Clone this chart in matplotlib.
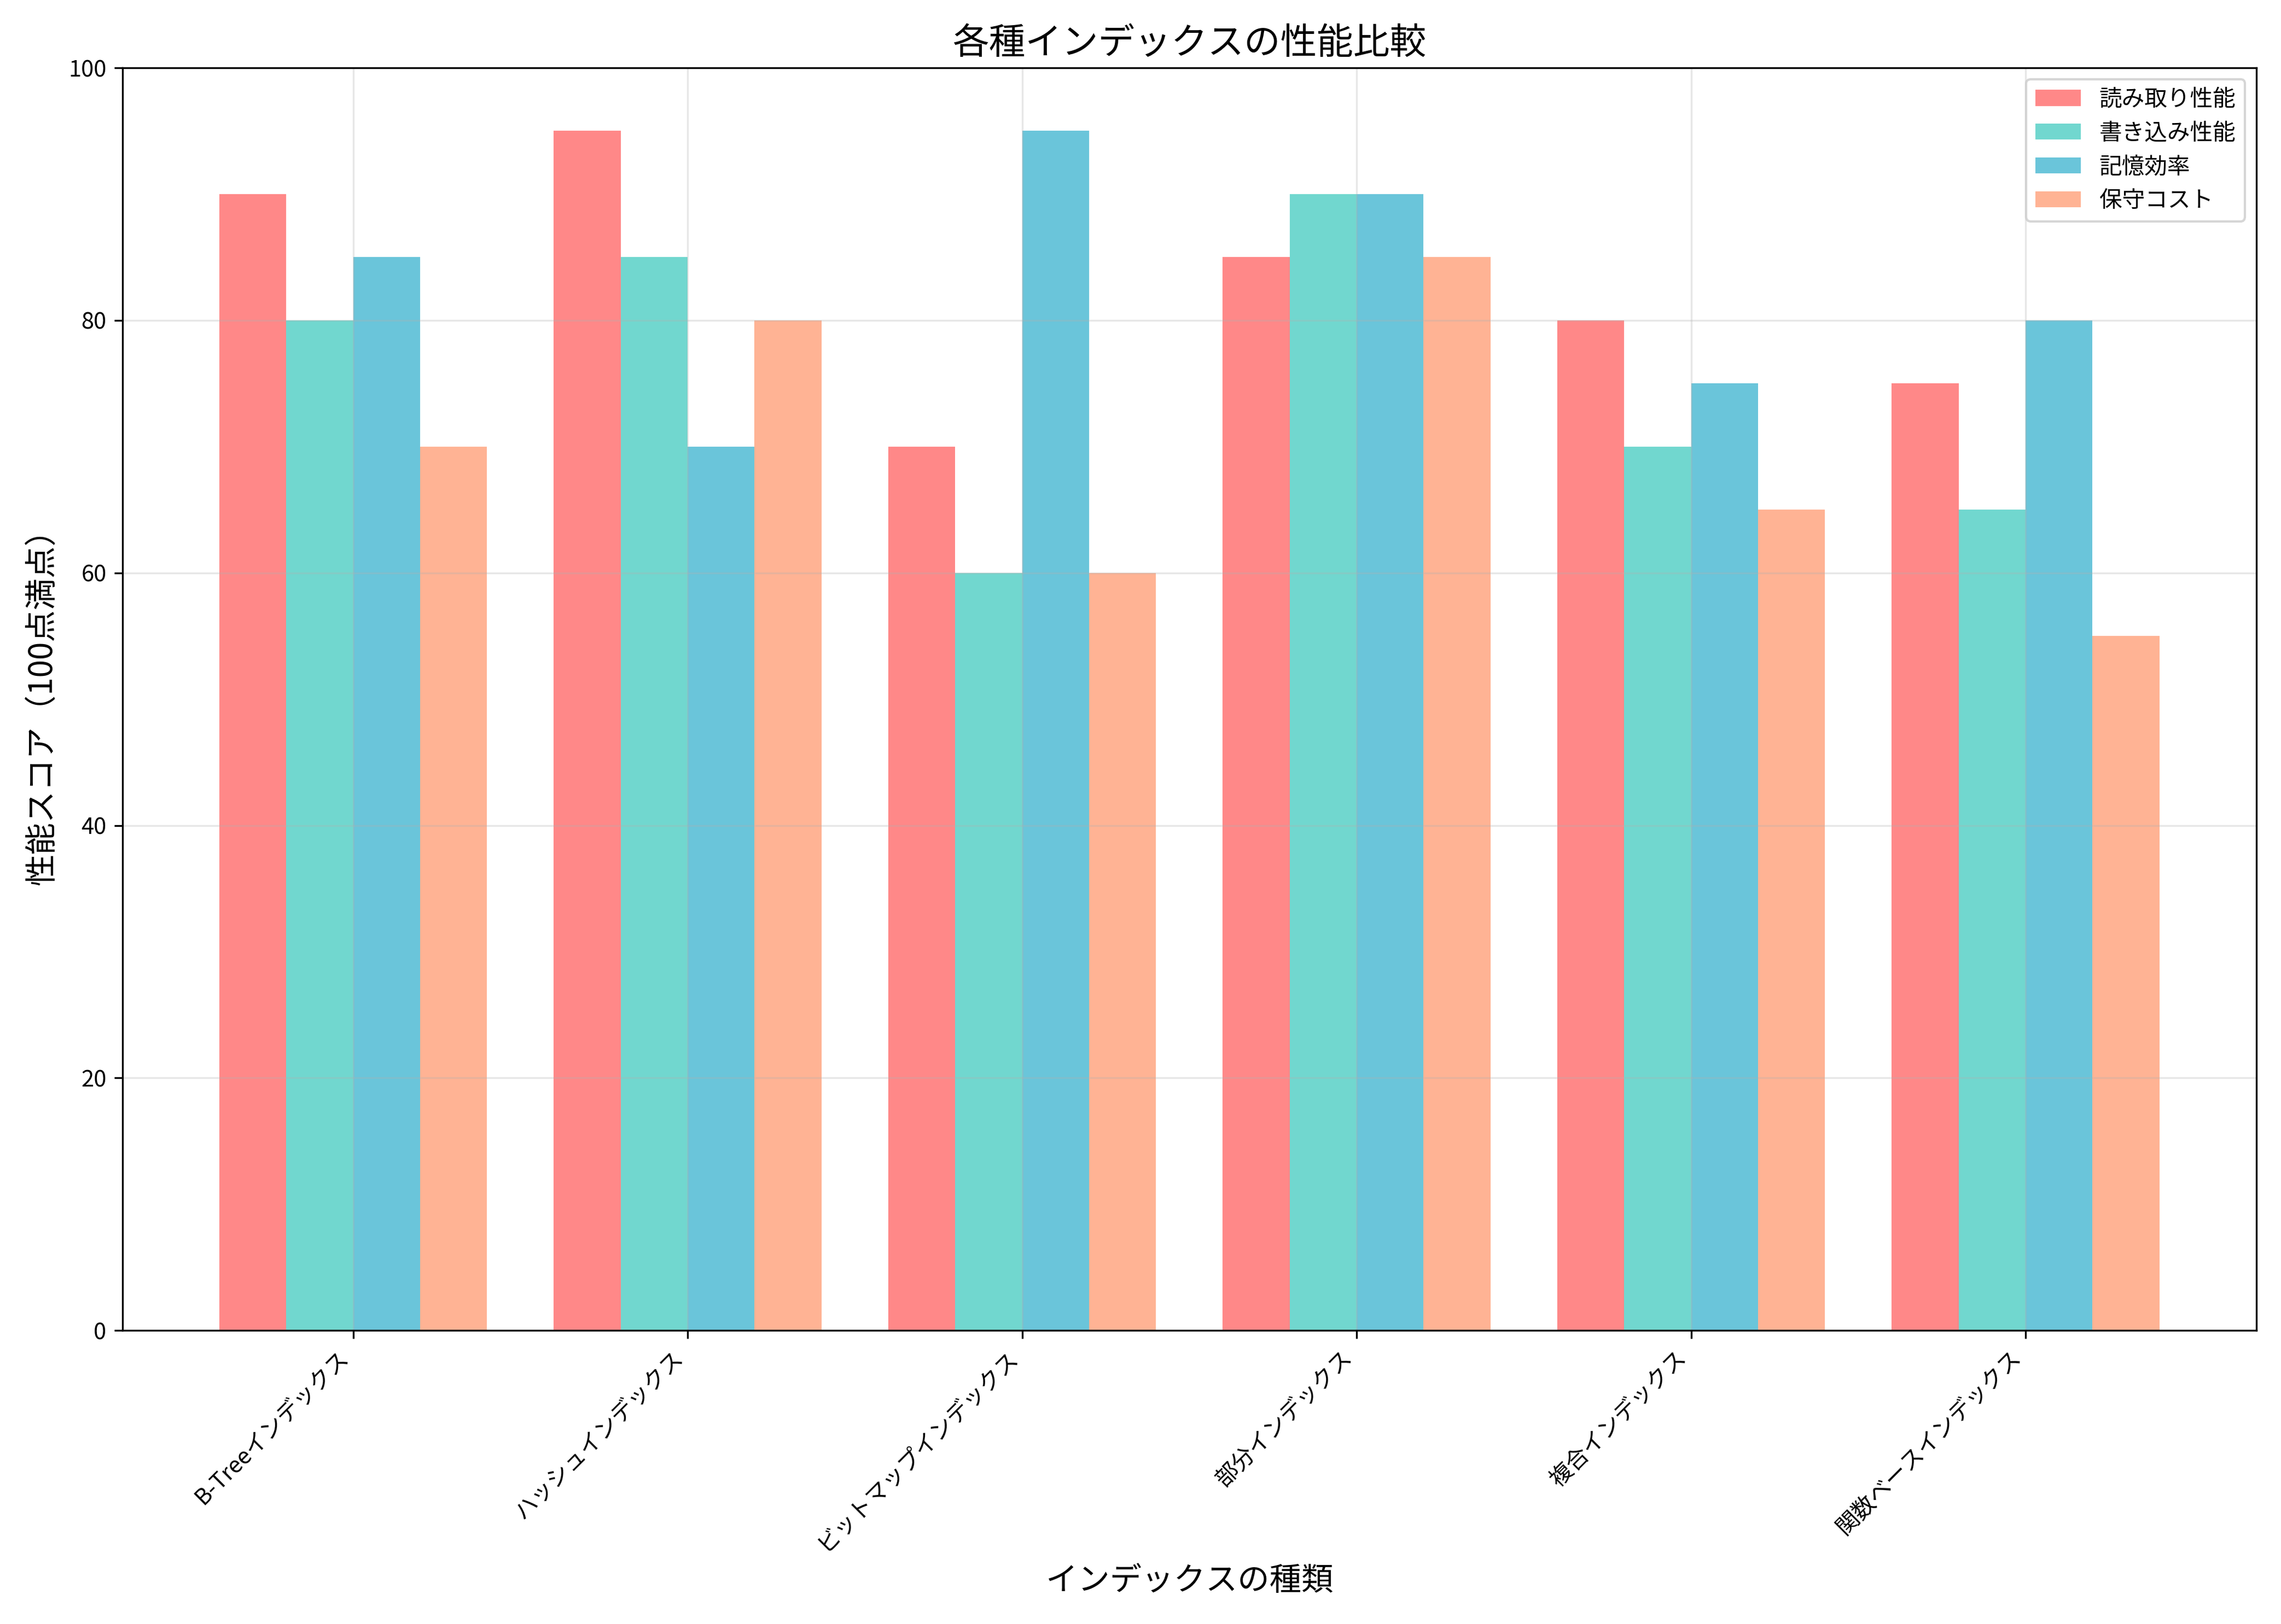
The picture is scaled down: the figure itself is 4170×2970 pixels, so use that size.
import numpy as np
import matplotlib
matplotlib.use("Agg")
import matplotlib.pyplot as plt

plt.rcParams["font.family"] = ["Noto Sans CJK JP", "DejaVu Sans"]

categories = ["B-Treeインデックス", "ハッシュインデックス", "ビットマップインデックス",
              "部分インデックス", "複合インデックス", "関数ベースインデックス"]
read_perf = [90, 95, 70, 85, 80, 75]
write_perf = [80, 85, 60, 90, 70, 65]
storage_eff = [85, 70, 95, 90, 75, 80]
maint_cost = [70, 80, 60, 85, 65, 55]

series = [("読み取り性能", read_perf, "#FF6B6B"),
          ("書き込み性能", write_perf, "#4ECDC4"),
          ("記憶効率", storage_eff, "#45B7D1"),
          ("保守コスト", maint_cost, "#FFA07A")]

x = np.arange(len(categories))
width = 0.2

fig, ax = plt.subplots(figsize=(13.9, 9.9))
for i, (label, vals, color) in enumerate(series):
    ax.bar(x + (i - 1.5) * width, vals, width, label=label, color=color, alpha=0.8)

ax.set_title("各種インデックスの性能比較", fontsize=16)
ax.set_xlabel("インデックスの種類", fontsize=14)
ax.set_ylabel("性能スコア（100点満点）", fontsize=14)
ax.set_xticks(x)
ax.set_xticklabels(categories, rotation=45, ha="right")
ax.set_ylim(0, 100)
ax.legend(loc="upper right")
ax.grid(True, alpha=0.3)
fig.tight_layout()
fig.savefig("out.png", dpi=300)
